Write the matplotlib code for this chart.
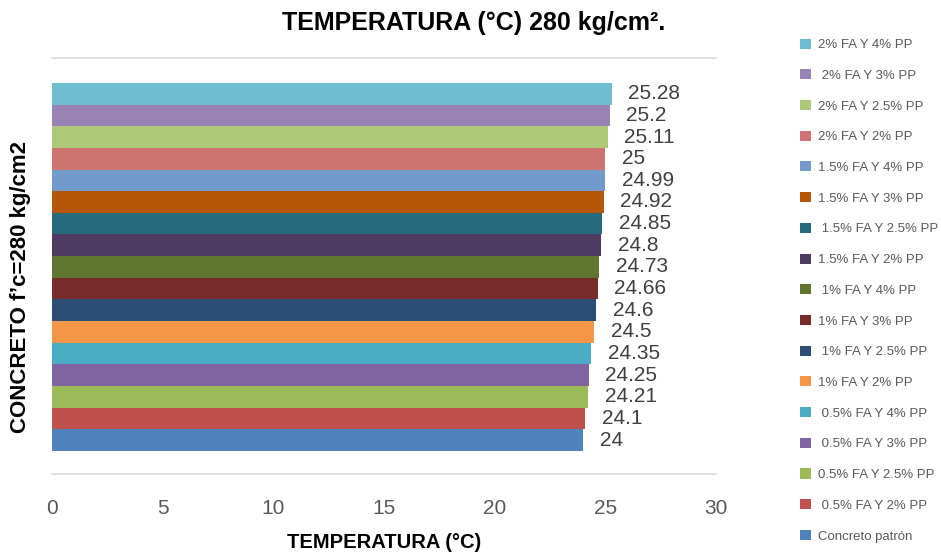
import matplotlib
matplotlib.use("Agg")
import matplotlib.pyplot as plt
from matplotlib.patches import Patch

# Datos (de abajo hacia arriba)
categorias = [
    "Concreto patrón", " 0.5% FA Y 2% PP", "0.5% FA Y 2.5% PP", " 0.5% FA Y 3% PP",
    " 0.5% FA Y 4% PP", "1% FA Y 2% PP", " 1% FA Y 2.5% PP", "1% FA Y 3% PP",
    " 1% FA Y 4% PP", "1.5% FA Y 2% PP", " 1.5% FA Y 2.5% PP", "1.5% FA Y 3% PP",
    "1.5% FA Y 4% PP", "2% FA Y 2% PP", "2% FA Y 2.5% PP", " 2% FA Y 3% PP",
    "2% FA Y 4% PP",
]
temperaturas = [24, 24.1, 24.21, 24.25, 24.35, 24.5, 24.6, 24.66, 24.73,
                24.8, 24.85, 24.92, 24.99, 25, 25.11, 25.2, 25.28]
etiquetas = ["24", "24.1", "24.21", "24.25", "24.35", "24.5", "24.6", "24.66", "24.73",
             "24.8", "24.85", "24.92", "24.99", "25", "25.11", "25.2", "25.28"]
colores = ["#4F81BD", "#C0504D", "#9BBB59", "#8064A2", "#4BACC6", "#F79646",
           "#2C4D75", "#772C2A", "#5F7530", "#4D3B62", "#276A7C", "#B65708",
           "#729ACA", "#CD7371", "#AFC97A", "#9983B5", "#6FBDD1"]
x_ticks = [0, 5, 10, 15, 20, 25, 30]

FONT = ["Liberation Sans", "DejaVu Sans"]
GRIS = "#595959"

fig = plt.figure(figsize=(9.41, 5.56), dpi=100)
ax = fig.add_axes([0.0553, 0.1475, 0.7056, 0.7482])

pos = list(range(len(temperaturas)))
ax.barh(pos, temperaturas, height=1.0, color=colores)

# etiquetas de datos al final de cada barra
for p, v, t in zip(pos, temperaturas, etiquetas):
    ax.annotate(t, (v, p), xytext=(12, 0), textcoords="offset points",
                va="center", ha="left", fontsize=15, color="#404040",
                family=FONT)

ax.set_xlim(0, 30)
ax.set_ylim(-1.56, 17.65)
ax.set_xticks(x_ticks)
ax.set_xticklabels([str(t) for t in x_ticks], fontsize=15, color=GRIS,
                   family=FONT)
ax.set_yticks([])
ax.tick_params(axis="x", length=0, pad=18)

for s in ["left", "right"]:
    ax.spines[s].set_visible(False)
for s in ["top", "bottom"]:
    ax.spines[s].set_color("#d9d9d9")
    ax.spines[s].set_linewidth(1.2)

ax.set_xlabel("TEMPERATURA (°C)", fontsize=14.5, fontweight="bold",
              family=FONT, labelpad=11)
fig.text(0.022, 0.484, "CONCRETO f’c=280 kg/cm2", rotation=90, ha="center",
         va="center", fontsize=16, fontweight="bold", family=FONT)
fig.text(0.503, 0.958, "TEMPERATURA (°C) 280 kg/cm².", ha="center", va="center",
         fontsize=18, fontweight="bold", family=FONT)

handles = [Patch(facecolor=c, label=l) for c, l in zip(colores, categorias)][::-1]
fig.legend(handles=handles, loc="upper left", bbox_to_anchor=(0.8375, 0.952),
           frameon=False, labelcolor=GRIS, handlelength=0.8,
           handleheight=0.8, handletextpad=0.6, labelspacing=1.37,
           prop={"family": FONT, "size": 9.5})

fig.savefig("out.png", dpi=100)
